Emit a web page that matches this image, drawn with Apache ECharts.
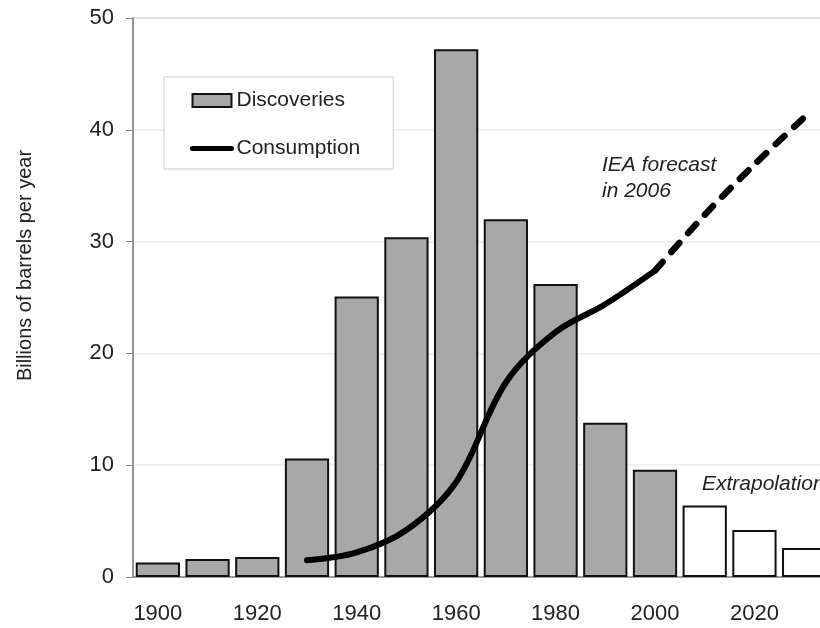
<!DOCTYPE html>
<html>
<head>
<meta charset="utf-8">
<script src="https://cdn.jsdelivr.net/npm/echarts@6/dist/echarts.min.js"></script>
<style>
html,body{margin:0;padding:0;background:#fff;}
#chart{width:820px;height:628px;}
</style>
</head>
<body>
<div id="chart"></div>
<script>
var categories = ['1900','1910','1920','1930','1940','1950','1960','1970','1980','1990','2000','2010','2020','2030'];
var discoveries = [1.3, 1.6, 1.8, 10.6, 25.1, 30.4, 47.2, 32.0, 26.2, 13.8, 9.6, null, null, null];
var extrapolation = [null, null, null, null, null, null, null, null, null, null, null, 6.4, 4.2, 2.6];
var consumptionYears = [1930, 1940, 1950, 1960, 1970, 1980, 1990, 2000];
var consumption = [1.5, 2.2, 4.2, 8.5, 17.4, 21.9, 24.4, 27.4];
var forecastYears = [2000, 2010, 2020, 2030];
var forecast = [27.4, 32.4, 36.9, 41.1];
var yTicks = [0, 10, 20, 30, 40, 50];

var FONT = "'Liberation Sans', Arial, Helvetica, sans-serif";

function pairs(xs, ys) {
  return xs.map(function (x, i) { return [x, ys[i]]; });
}

var chart = echarts.init(document.getElementById('chart'), null, {renderer: 'canvas'});
chart.setOption({
  animation: false,
  backgroundColor: '#ffffff',
  grid: {left: 133, width: 696, top: 18, height: 559, outerBoundsMode: 'none', containLabel: false,
         show: true, borderColor: '#999999', borderWidth: 1.5, backgroundColor: 'transparent'},
  legend: {
    orient: 'vertical',
    left: 164, top: 77,
    padding: [13, 33, 10, 26],
    itemGap: 27,
    itemWidth: 39, itemHeight: 13,
    backgroundColor: '#ffffff',
    borderColor: '#cccccc', borderWidth: 1,
    textStyle: {fontFamily: FONT, fontSize: 21, color: '#222222'},
    data: [
      {name: 'Discoveries', icon: 'rect', itemStyle: {color: '#a8a8a8', borderColor: '#111111', borderWidth: 2}},
      {name: 'Consumption', itemStyle: {opacity: 0}, lineStyle: {width: 5, color: '#000000'}}
    ]
  },
  xAxis: [{
    type: 'category',
    data: categories,
    boundaryGap: true,
    axisLine: {lineStyle: {color: '#888888', width: 1.5}},
    axisTick: {show: false},
    axisLabel: {interval: 1, margin: 26, fontFamily: FONT, fontSize: 22, color: '#222222'},
    splitLine: {show: false}
  }, {
    type: 'value',
    min: 1895, max: 2035,
    show: false,
    splitLine: {show: false}
  }],
  yAxis: {
    type: 'value',
    min: yTicks[0], max: yTicks[yTicks.length - 1], interval: 10,
    name: 'Billions of barrels per year',
    nameLocation: 'middle',
    nameGap: 98,
    nameTextStyle: {fontFamily: FONT, fontSize: 20, color: '#222222', padding: [0, 0, 0, 64]},
    axisLine: {show: true, lineStyle: {color: '#888888', width: 1.5}},
    axisTick: {show: true, length: 7, lineStyle: {color: '#888888'}},
    axisLabel: {margin: 19, fontFamily: FONT, fontSize: 22, color: '#222222'},
    splitLine: {show: true, lineStyle: {color: '#ebebeb', width: 1.5}}
  },
  series: [{
    name: 'Discoveries',
    type: 'bar',
    stack: 'd',
    barCategoryGap: '11%',
    data: discoveries,
    itemStyle: {color: '#a8a8a8', borderColor: '#111111', borderWidth: 2}
  }, {
    name: 'Extrapolation',
    type: 'bar',
    stack: 'd',
    barCategoryGap: '11%',
    data: extrapolation,
    itemStyle: {color: '#ffffff', borderColor: '#111111', borderWidth: 2}
  }, {
    name: 'Consumption',
    type: 'line',
    xAxisIndex: 1,
    data: pairs(consumptionYears, consumption),
    smooth: 0.35,
    symbol: 'none',
    itemStyle: {color: '#000000'},
    lineStyle: {color: '#000000', width: 6, cap: 'round', join: 'round'},
    z: 5
  }, {
    name: 'Forecast',
    type: 'line',
    xAxisIndex: 1,
    data: pairs(forecastYears, forecast),
    smooth: 0.3,
    symbol: 'none',
    itemStyle: {color: '#000000'},
    lineStyle: {color: '#000000', width: 6.5, type: [12, 13], cap: 'round'},
    z: 5
  }],
  graphic: [{
    type: 'text', left: 602, top: 152, z: 10,
    style: {text: 'IEA forecast\nin 2006', font: 'italic 21px ' + FONT, fill: '#222222', lineHeight: 26}
  }, {
    type: 'text', left: 702, top: 474, z: 10,
    style: {text: 'Extrapolation', font: 'italic 21px ' + FONT, fill: '#222222'}
  }]
});
</script>
</body>
</html>
